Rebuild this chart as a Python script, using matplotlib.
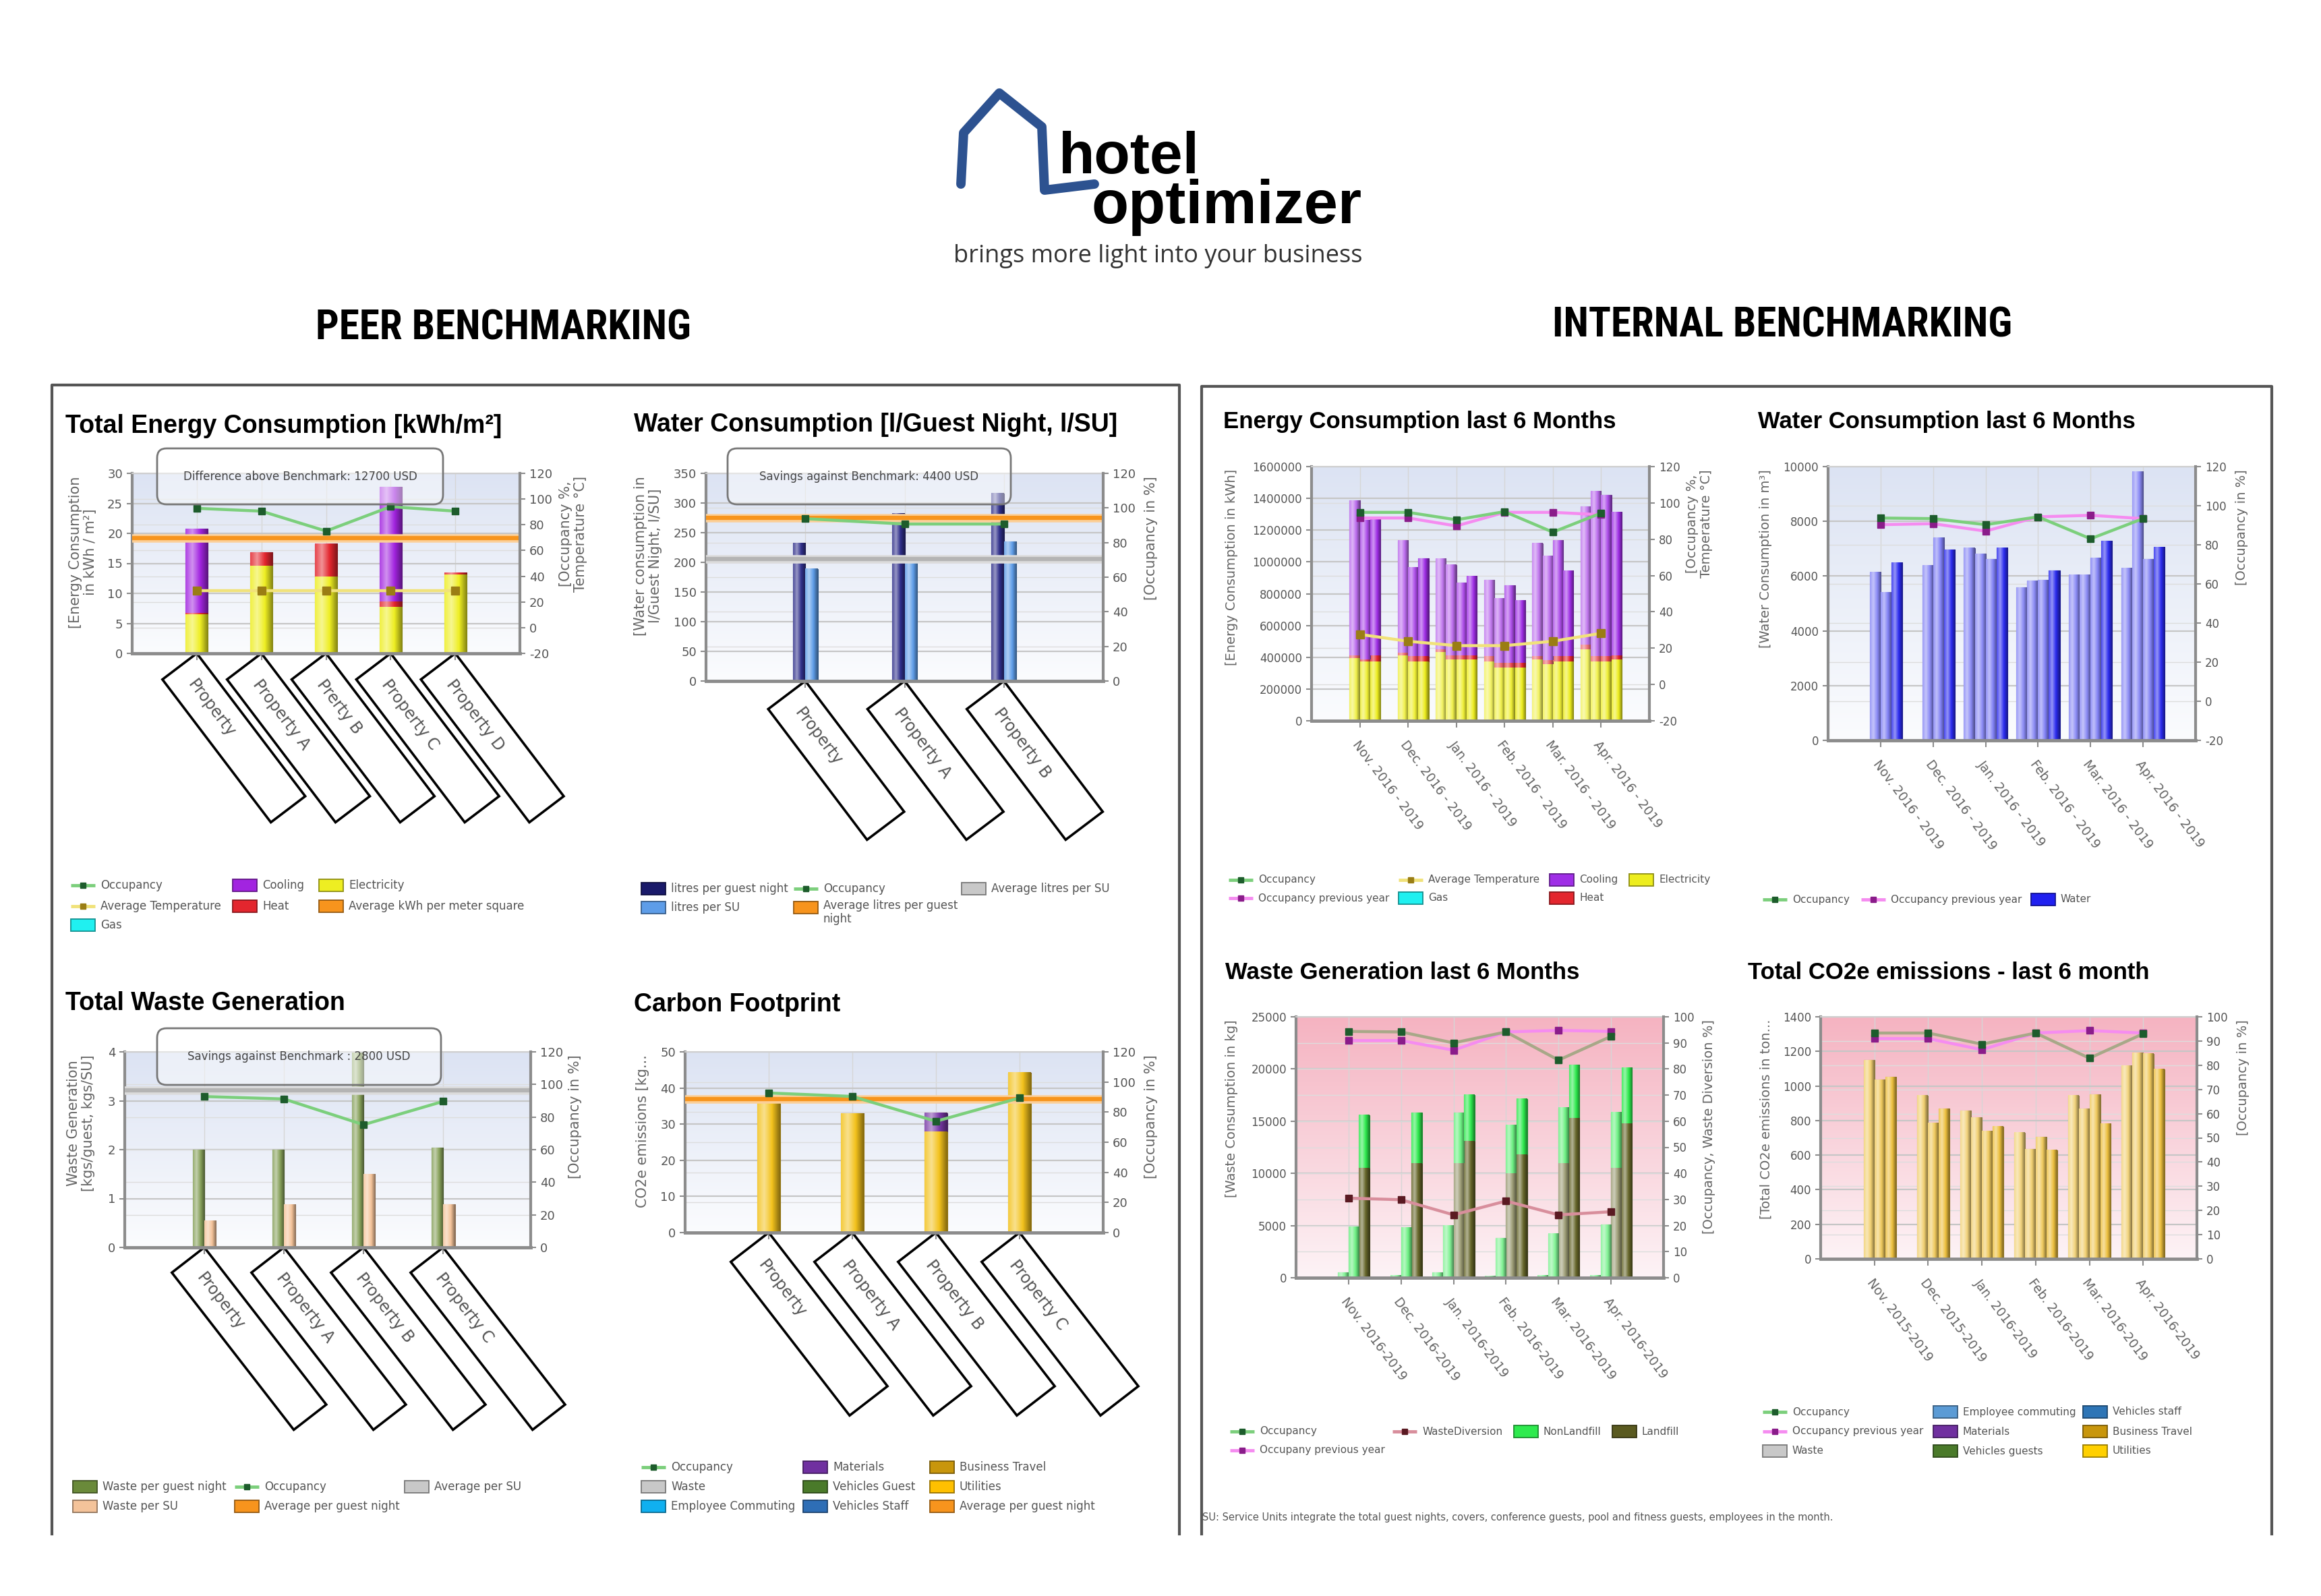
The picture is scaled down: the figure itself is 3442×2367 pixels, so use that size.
import numpy as np
import matplotlib
matplotlib.use('Agg')
import matplotlib.pyplot as plt
from matplotlib.colors import to_rgb
from matplotlib.patches import FancyBboxPatch, Polygon, Rectangle
from matplotlib.transforms import Affine2D, ScaledTranslation

plt.rcParams['font.family'] = ['DejaVu Sans']

W, H = 3442, 2367
nan = np.nan

# ------------------------------------------------------------ peer data
energy_props = ['Property', 'Property A', 'Prerty B', 'Property C', 'Property D']
energy_elec = [6.5, 14.6, 12.8, 7.7, 13.1]
energy_heat = [0.2, 2.2, 5.4, 1.0, 0.3]
energy_cool = [14.0, 0.0, 0.0, 19.0, 0.0]
energy_occ = [92.8, 90.6, 75.1, 94.1, 90.6]
energy_temp = [29, 29, 29, 29, 29]
energy_avg = 19.2

water_props = ['Property', 'Property A', 'Property B']
water_guest = [232, 282, 316]
water_su = [189, 202, 235]
water_occ = [93.8, 90.7, 90.7]
water_avg_guest = 275
water_avg_su = 206

waste_props = ['Property', 'Property A', 'Property B', 'Property C']
waste_guest = [2.0, 2.0, 4.0, 2.04]
waste_su = [0.54, 0.87, 1.49, 0.88]
waste_occ = [92.6, 91.1, 75.3, 89.6]
waste_avg_su = 3.22

carbon_props = ['Property', 'Property A', 'Property B', 'Property C']
carbon_util = [36.3, 33.0, 27.9, 44.3]
carbon_mat = [0.0, 0.0, 5.1, 0.0]
carbon_occ = [92.7, 90.4, 73.9, 89.4]
carbon_avg = 37.0

# ------------------------------------------------------------ internal data
months_energy = ['Nov. 2016 - 2019', 'Dec. 2016 - 2019', 'Jan. 2016 - 2019',
                 'Feb. 2016 - 2019', 'Mar. 2016 - 2019', 'Apr. 2016 - 2019']
months_waste = ['Nov. 2016-2019', 'Dec. 2016-2019', 'Jan. 2016-2019',
                'Feb. 2016-2019', 'Mar. 2016-2019', 'Apr. 2016-2019']
months_co2 = ['Nov. 2015-2019', 'Dec. 2015-2019', 'Jan. 2016-2019',
              'Feb. 2016-2019', 'Mar. 2016-2019', 'Apr. 2016-2019']

# one row per month, one column per yearly bar (nan = year missing)
en_elec = [[nan, 396000, 373000, 373000],
           [nan, 412000, 373000, 373000],
           [435000, 388000, 388000, 388000],
           [373000, 334000, 334000, 334000],
           [388000, 357000, 373000, 373000],
           [450000, 373000, 373000, 388000]]
en_heat = [[nan, 16000, 15000, 39000],
           [nan, 15000, 34000, 34000],
           [15000, 24000, 24000, 24000],
           [34000, 31000, 31000, 31000],
           [19000, 23000, 34000, 34000],
           [31000, 34000, 34000, 24000]]
en_cool = [[nan, 974000, 878000, 865000],
           [nan, 707000, 556000, 615000],
           [570000, 570000, 458000, 497000],
           [478000, 404000, 486000, 391000],
           [711000, 657000, 727000, 537000],
           [867000, 1038000, 1014000, 900000]]
en_occ = [94.8, 94.8, 90.7, 95.2, 83.9, 94.4]
en_occ_prev = [91.7, 91.7, 87.3, 94.8, 94.8, 93.5]
en_temp = [27.6, 23.8, 21.4, 21.4, 23.8, 28.2]

wa_water = [[nan, 6135, 5400, 6480],
            [nan, 6380, 7400, 6970],
            [7030, 6800, 6620, 7030],
            [5580, 5830, 5850, 6200],
            [6040, 6040, 6660, 7280],
            [6290, 9815, 6625, 7055]]
wa_occ = [93.7, 93.4, 90.3, 94.3, 83.1, 93.4]
wa_occ_prev = [90.3, 90.8, 87.0, 94.3, 95.1, 93.4]

ws_landfill = [[nan, 0, 0, 10500],
               [nan, 0, 0, 11000],
               [0, 0, 11000, 13100],
               [0, 0, 10000, 11800],
               [0, 0, 11000, 15300],
               [0, 0, 10500, 14800]]
ws_nonlandfill = [[nan, 500, 4900, 5100],
                  [nan, 200, 4800, 4800],
                  [500, 5000, 4800, 4400],
                  [150, 3800, 4600, 5300],
                  [200, 4200, 5300, 5100],
                  [200, 5100, 5300, 5300]]
ws_occ = [94.4, 94.2, 90.0, 94.2, 83.4, 92.5]
ws_occ_prev = [90.9, 90.9, 87.2, 94.2, 94.8, 94.4]
ws_diversion = [30.5, 29.9, 24.1, 29.4, 24.1, 25.3]

co_total = [[nan, 1150, 1037, 1052],
            [nan, 944, 786, 868],
            [857, 818, 738, 766],
            [731, 634, 705, 629],
            [944, 868, 950, 781],
            [1117, 1193, 1187, 1096]]
co_occ = [93.3, 93.3, 88.7, 93.3, 82.9, 93.0]
co_occ_prev = [91.0, 91.0, 86.4, 93.3, 94.3, 93.3]

# ------------------------------------------------------------ styling
BLUE_BG = ('#dce3f3', '#fbfcfe')
PINK_BG = ('#f5b3c1', '#fdf3f6')
AXIS = '#8c8c8c'
TXT = '#555555'
ORANGE = '#f7941d'
OCC = ('#7ccf7c', '#1d5c2c')
PREV = ('#f58cf0', '#8a1c8a')
TEMP = ('#f1e27a', '#9a7d14')
DIV = ('#d88e9c', '#5a1a22')
BOLD = ['Liberation Sans', 'DejaVu Sans']
NARROW = ['Liberation Sans Narrow', 'Roboto Condensed', 'Liberation Sans', 'DejaVu Sans']
T = np.linspace(0, 1, 40)

fig = plt.figure(figsize=(W / 100, H / 100), dpi=100)
ov = fig.add_axes([0, 0, 1, 1], zorder=10)
ov.set_xlim(0, W)
ov.set_ylim(H, 0)
ov.axis('off')


def darker(c, f=0.6):
    return tuple(np.array(to_rgb(c)) * f)


def cbar(ax, x, h, w, color, bottom=None, lighten=0.0, align='center'):
    # bar with a cylinder-like horizontal shading
    rgb = np.array(to_rgb(color))
    rgb = rgb + (1 - rgb) * lighten
    bars = ax.bar(x, h, w, bottom=bottom, align=align, color=rgb,
                  edgecolor=rgb * 0.6, linewidth=0.8, zorder=2)
    k = np.interp(T, [0, 0.3, 0.65, 1], [0.15, 0.5, 0.0, -0.45])[:, None]
    img = np.where(k >= 0, rgb + (1 - rgb) * k, rgb * (1 + k))[None, :, :]
    for p in bars:
        x0, y0, bw, bh = p.get_x(), p.get_y(), p.get_width(), p.get_height()
        if not (np.isfinite(y0) and np.isfinite(bh)) or bh <= 0:
            continue
        ax.imshow(img, extent=(x0, x0 + bw, y0, y0 + bh), aspect='auto',
                  interpolation='bilinear', zorder=2.01)
    return bars


def year_bars(ax, x, rows, w, color, lighten, bottom=None):
    rows = np.array(rows, float)
    for j in range(rows.shape[1]):
        b = None if bottom is None else bottom[:, j]
        cbar(ax, x + (j - 2) * w, rows[:, j], w, color, bottom=b,
             lighten=lighten[j], align='edge')


def panel(box, ylim, ystep, rlim, rstep, xlim, bg, fs):
    x0, y0, x1, y1 = box
    ax = fig.add_axes([x0 / W, 1 - y1 / H, (x1 - x0) / W, (y1 - y0) / H])
    ax2 = ax.twinx()
    yt = np.arange(ylim[0], ylim[1] + ystep / 2, ystep)
    rt = np.arange(rlim[0], rlim[1] + rstep / 2, rstep)
    ax.set_yticks(yt)
    ax.set_yticklabels([str(int(v)) for v in yt])
    ax2.set_yticks(rt)
    ax2.set_yticklabels([str(int(v)) for v in rt])
    g = np.linspace(0, 1, 256)[:, None, None]
    img = (1 - g) * np.array(to_rgb(bg[0])) + g * np.array(to_rgb(bg[1]))
    ax.imshow(img, extent=(0, 1, 0, 1), transform=ax.transAxes, aspect='auto',
              zorder=0, interpolation='bilinear')
    ax.set_axisbelow(True)
    ax.grid(axis='y', color='#c6c6c6', lw=1.6)
    ax.grid(axis='x', color='#d6d6d6', lw=1)
    for v in rt:
        ax.axhline(ylim[0] + (v - rlim[0]) / (rlim[1] - rlim[0]) * (ylim[1] - ylim[0]),
                   color='#dddddd', lw=1, zorder=0.6)
    ax.spines['right'].set_visible(False)
    ax.spines['left'].set(color=AXIS, lw=3)
    ax.spines['bottom'].set(color=AXIS, lw=3.5)
    ax.spines['top'].set(color='#cfcfcf', lw=1.5)
    for s in ['left', 'top', 'bottom']:
        ax2.spines[s].set_visible(False)
    ax2.spines['right'].set(color=AXIS, lw=3)
    for a in (ax, ax2):
        a.tick_params(axis='y', length=6, width=1.5, color=AXIS, labelsize=fs,
                      labelcolor=TXT, pad=4)
    ax.tick_params(axis='x', length=7, width=1.5, color=AXIS)
    ax.set_xlim(*xlim)
    ax.set_ylim(*ylim)
    ax2.set_ylim(*rlim)
    return ax, ax2


def line(ax2, x, y, st, ms=7, marker='s'):
    ax2.plot(x, y, color=st[0], lw=3.2, marker=marker, ms=ms, mfc=st[1], mec=st[1], zorder=4)


def avg_line(ax, v, color, halo):
    ax.axhline(v, color=halo, lw=9, zorder=3)
    ax.axhline(v, color=color, lw=4.5, zorder=3.1)


def prop_boxes(ax, names, L, Wd, ang, fs=17):
    for i, name in enumerate(names):
        base = ScaledTranslation(i + 1, 0, ax.get_xaxis_transform())
        tr = Affine2D().rotate_deg(-ang) + base
        ax.add_patch(Polygon([(0, 0), (L, 0), (L, -Wd), (0, -Wd)], closed=True,
                             fill=False, ec='black', lw=2.6, transform=tr, clip_on=False))
        ax.text(28, -Wd / 2, name, transform=tr, rotation=-ang, rotation_mode='anchor',
                ha='left', va='center', fontsize=fs, color=TXT, clip_on=False)
    ax.set_xticks(np.arange(1, len(names) + 1))
    ax.set_xticklabels([])


def month_ticks(ax, x, labels):
    ax.set_xticks(x)
    ax.set_xticklabels(labels, rotation=-53, ha='left', va='top',
                       rotation_mode='anchor', fontsize=13.5, color='#666666')
    ax.tick_params(axis='x', pad=12)


def legend(cols, rows, entries, fs):
    for c, r, kind, col, lab in entries:
        x, y = cols[c], rows[r]
        if kind == 'line':
            ov.plot([x, x + 36], [y, y], color=col[0], lw=3.5, solid_capstyle='butt')
            ov.plot([x + 18], [y], marker='s', ms=6, color=col[1])
        else:
            ov.add_patch(Rectangle((x, y - 9), 36, 18, fc=col, ec=darker(col), lw=1.3))
        if '\n' in lab:
            ov.text(x + 44, y - 12, lab, va='top', fontsize=fs, color=TXT, linespacing=1.15)
        else:
            ov.text(x + 44, y, lab, va='center', fontsize=fs, color=TXT)


def note_box(x0, y0, x1, y1, text):
    ov.add_patch(FancyBboxPatch((x0, y0), x1 - x0, y1 - y0,
                                boxstyle='round,pad=0,rounding_size=14',
                                fc=(1, 1, 1, 0.45), ec='#777777', lw=2))
    ov.text((x0 + x1) / 2, (y0 + y1) / 2, text, ha='center', va='center',
            fontsize=12, color='#444444')


def ylab(x, top, text, fs=14):
    ov.text(x, top + 4, text, rotation=90, ha='center', va='top', fontsize=fs,
            color='#666666', linespacing=1.1, multialignment='center')


# ------------------------------------------------------------ header / logo
ov.plot([1425, 1429, 1482, 1545, 1549, 1623], [273, 197, 138, 188, 282, 273],
        color='#2d5290', lw=10, solid_joinstyle='round', solid_capstyle='round')
ov.text(1570, 257, 'hotel', fontsize=63, fontweight='bold', family=BOLD, va='baseline')
ov.text(1619, 331, 'optimizer', fontsize=65, fontweight='bold', family=BOLD, va='baseline')
ov.text(1717, 380, 'brings more light into your business', fontsize=26, ha='center',
        va='center', color='#333333', family=['Open Sans', 'DejaVu Sans'])
ov.text(746, 487, 'PEER BENCHMARKING', ha='center', va='center', fontsize=44,
        fontweight='bold', family=NARROW)
ov.text(2643, 483, 'INTERNAL BENCHMARKING', ha='center', va='center', fontsize=44,
        fontweight='bold', family=NARROW)
ov.plot([77, 77, 1749, 1749], [2275, 571, 571, 2275], color='#555555', lw=3)
ov.plot([1782, 1782, 3369, 3369], [2275, 573, 573, 2275], color='#555555', lw=3)

for x, y, t, fs in [(97, 632, 'Total Energy Consumption [kWh/m²]', 27),
                    (940, 630, 'Water Consumption [l/Guest Night, l/SU]', 27),
                    (97, 1488, 'Total Waste Generation', 27),
                    (940, 1490, 'Carbon Footprint', 27),
                    (1814, 625, 'Energy Consumption last 6 Months', 25),
                    (2607, 625, 'Water Consumption last 6 Months', 25),
                    (1817, 1442, 'Waste Generation last 6 Months', 25),
                    (2592, 1442, 'Total CO2e emissions - last 6 month', 25)]:
    ov.text(x, y, t, fontsize=fs, fontweight='bold', family=BOLD, va='center')

# ------------------------------------------------------------ 1 total energy
ax, ax2 = panel((196, 702, 771, 969), (0, 30), 5, (-20, 120), 20, (0, 6), BLUE_BG, 13)
x = np.arange(1, 6)
e = np.array(energy_elec)
cbar(ax, x, energy_elec, 0.345, '#eeee22')
cbar(ax, x, energy_heat, 0.345, '#e3262e', bottom=e)
cbar(ax, x, energy_cool, 0.345, '#a224e0', bottom=e + np.array(energy_heat))
avg_line(ax, energy_avg, ORANGE, '#fbcf98')
line(ax2, x, energy_temp, TEMP, ms=8)
line(ax2, x, energy_occ, OCC)
prop_boxes(ax, energy_props, 266, 64, 52.8)
ylab(123, 702, '[Energy Consumption\nin kWh / m²]', 15)
ylab(850, 702, '[Occupancy %,\nTemperature °C]', 15)
note_box(233, 665, 657, 748, 'Difference above Benchmark: 12700 USD')
legend([105, 345, 473], [1313, 1344, 1372],
       [(0, 0, 'line', OCC, 'Occupancy'),
        (0, 1, 'line', TEMP, 'Average Temperature'),
        (0, 2, 'patch', '#20f0f0', 'Gas'),
        (1, 0, 'patch', '#a224e0', 'Cooling'),
        (1, 1, 'patch', '#e3262e', 'Heat'),
        (2, 0, 'patch', '#eeee22', 'Electricity'),
        (2, 1, 'patch', ORANGE, 'Average kWh per meter square')], 12)

# ------------------------------------------------------------ 2 water
ax, ax2 = panel((1047, 702, 1636, 1010), (0, 350), 50, (0, 120), 20, (0, 4), BLUE_BG, 13)
x = np.arange(1, 4)
cbar(ax, x - 0.125, water_guest, 0.125, '#2f2f8a', align='edge')
cbar(ax, x, water_su, 0.125, '#5e9de8', align='edge')
avg_line(ax, water_avg_su, '#b4b4b4', '#dcdcdc')
avg_line(ax, water_avg_guest, ORANGE, '#fbcf98')
line(ax2, x, water_occ, OCC)
prop_boxes(ax, water_props, 243, 69, 52.9)
ylab(961, 702, '[Water consumption in\nl/Guest Night, l/SU]', 15)
ylab(1707, 702, '[Occupancy in %]', 15)
note_box(1079, 665, 1499, 748, 'Savings against Benchmark: 4400 USD')
legend([951, 1177, 1426], [1318, 1346],
       [(0, 0, 'patch', '#1a1a6a', 'litres per guest night'),
        (0, 1, 'patch', '#5e9de8', 'litres per SU'),
        (1, 0, 'line', OCC, 'Occupancy'),
        (1, 1, 'patch', ORANGE, 'Average litres per guest\nnight'),
        (2, 0, 'patch', '#c8c8c8', 'Average litres per SU')], 12)

# ------------------------------------------------------------ 3 waste
ax, ax2 = panel((185, 1560, 787, 1850), (0, 4), 1, (0, 120), 20, (0, 5.1), BLUE_BG, 13)
x = np.arange(1, 5)
cbar(ax, x - 0.147, waste_guest, 0.147, '#86a05a', align='edge')
cbar(ax, x, waste_su, 0.147, '#f4c39a', align='edge')
avg_line(ax, waste_avg_su, '#b4b4b4', '#dcdcdc')
line(ax2, x, waste_occ, OCC)
prop_boxes(ax, waste_props, 295, 61, 52.2)
ylab(120, 1560, 'Waste Generation\n[kgs/guest, kgs/SU]', 15)
ylab(853, 1560, '[Occupancy in %]', 15)
note_box(233, 1525, 654, 1609, 'Savings against Benchmark : 2800 USD')
legend([108, 348, 600], [2205, 2234],
       [(0, 0, 'patch', '#6a8a3a', 'Waste per guest night'),
        (0, 1, 'patch', '#f4c39a', 'Waste per SU'),
        (1, 0, 'line', OCC, 'Occupancy'),
        (1, 1, 'patch', ORANGE, 'Average per guest night'),
        (2, 0, 'patch', '#c8c8c8', 'Average per SU')], 12)

# ------------------------------------------------------------ 4 carbon
ax, ax2 = panel((1016, 1560, 1636, 1828), (0, 50), 10, (0, 120), 20, (0, 5), BLUE_BG, 13)
x = np.arange(1, 5)
cbar(ax, x, carbon_util, 0.274, '#f3c21c')
cbar(ax, x, carbon_mat, 0.274, '#7a3aa8', bottom=np.array(carbon_util))
avg_line(ax, carbon_avg, ORANGE, '#fbcf98')
line(ax2, x, carbon_occ, OCC)
prop_boxes(ax, carbon_props, 288, 71, 52.3)
ylab(953, 1560, 'CO2e emissions [kg...', 15)
ylab(1707, 1560, '[Occupancy in %]', 15)
legend([951, 1191, 1379], [2176, 2205, 2234],
       [(0, 0, 'line', OCC, 'Occupancy'),
        (0, 1, 'patch', '#c8c8c8', 'Waste'),
        (0, 2, 'patch', '#10b0f0', 'Employee Commuting'),
        (1, 0, 'patch', '#7030a0', 'Materials'),
        (1, 1, 'patch', '#4a7a2a', 'Vehicles Guest'),
        (1, 2, 'patch', '#2e6eb6', 'Vehicles Staff'),
        (2, 0, 'patch', '#c8960c', 'Business Travel'),
        (2, 1, 'patch', '#ffc000', 'Utilities'),
        (2, 2, 'patch', ORANGE, 'Average per guest night')], 12)

# ------------------------------------------------------------ 5 energy 6 months
ax, ax2 = panel((1945, 692, 2446, 1069), (0, 1600000), 200000, (-20, 120), 20, (0, 7), BLUE_BG, 12)
x = np.arange(1, 7)
elec = np.array(en_elec, float)
heat = np.array(en_heat, float)
lt = [0.35, 0.3, 0.15, 0.0]
year_bars(ax, x, elec, 0.214, '#eded1e', [0.3, 0.2, 0.1, 0.0])
year_bars(ax, x, heat, 0.214, '#e3262e', lt, bottom=elec)
year_bars(ax, x, en_cool, 0.214, '#9f2ee6', lt, bottom=elec + heat)
line(ax2, x, en_temp, TEMP, ms=8)
line(ax2, x, en_occ_prev, PREV)
line(ax2, x, en_occ, OCC)
month_ticks(ax, x, months_energy)
ylab(1827, 692, '[Energy Consumption in kWh]')
ylab(2520, 692, '[Occupancy %,\nTemperature °C]')
legend([1822, 2074, 2298, 2416], [1305, 1332],
       [(0, 0, 'line', OCC, 'Occupancy'),
        (0, 1, 'line', PREV, 'Occupancy previous year'),
        (1, 0, 'line', TEMP, 'Average Temperature'),
        (1, 1, 'patch', '#20f0f0', 'Gas'),
        (2, 0, 'patch', '#9f2ee6', 'Cooling'),
        (2, 1, 'patch', '#e3262e', 'Heat'),
        (3, 0, 'patch', '#eded1e', 'Electricity')], 11)

# ------------------------------------------------------------ 6 water 6 months
ax, ax2 = panel((2711, 692, 3256, 1098), (0, 10000), 2000, (-20, 120), 20, (0, 7), BLUE_BG, 12)
year_bars(ax, x, wa_water, 0.206, '#2b2bee', [0.45, 0.45, 0.4, 0.0])
line(ax2, x, wa_occ_prev, PREV)
line(ax2, x, wa_occ, OCC)
month_ticks(ax, x, months_energy)
ylab(2619, 692, '[Water Consumption in m³]')
ylab(3325, 692, '[Occupancy in %]')
legend([2614, 2760, 3012], [1334],
       [(0, 0, 'line', OCC, 'Occupancy'),
        (1, 0, 'line', PREV, 'Occupancy previous year'),
        (2, 0, 'patch', '#2020f0', 'Water')], 11)

# ------------------------------------------------------------ 7 waste 6 months
ax, ax2 = panel((1922, 1508, 2467, 1895), (0, 25000), 5000, (0, 100), 10, (0, 7), PINK_BG, 12)
land = np.array(ws_landfill, float)
year_bars(ax, x, land, 0.2, '#66662a', [0.45, 0.45, 0.35, 0.0])
year_bars(ax, x, ws_nonlandfill, 0.2, '#2eea4e', [0.4, 0.4, 0.3, 0.0], bottom=land)
line(ax2, x, ws_diversion, DIV)
line(ax2, x, ws_occ_prev, PREV)
line(ax2, x, ws_occ, ('#a8a888', '#1d5c2c'))
month_ticks(ax, x, months_waste)
ylab(1827, 1508, '[Waste Consumption in kg]')
ylab(2535, 1508, '[Occupancy, Waste Diversion %]')
legend([1824, 2065, 2245, 2391], [2123, 2151],
       [(0, 0, 'line', OCC, 'Occupancy'),
        (0, 1, 'line', PREV, 'Occupany previous year'),
        (1, 0, 'line', DIV, 'WasteDiversion'),
        (2, 0, 'patch', '#2eea4e', 'NonLandfill'),
        (3, 0, 'patch', '#5a5a20', 'Landfill')], 11)

# ------------------------------------------------------------ 8 co2 6 months
ax, ax2 = panel((2700, 1508, 3258, 1867), (0, 1400), 200, (0, 100), 10, (0, 7), PINK_BG, 12)
year_bars(ax, x, co_total, 0.2, '#ecbc34', [0.35, 0.3, 0.2, 0.05])
line(ax2, x, co_occ_prev, PREV)
line(ax2, x, co_occ, ('#a8a888', '#1d5c2c'))
month_ticks(ax, x, months_co2)
ylab(2619, 1508, '[Total CO2e emissions in ton...')
ylab(3326, 1508, '[Occupancy in %]')
legend([2614, 2867, 3089], [2094, 2123, 2152],
       [(0, 0, 'line', OCC, 'Occupancy'),
        (0, 1, 'line', PREV, 'Occupancy previous year'),
        (0, 2, 'patch', '#c8c8c8', 'Waste'),
        (1, 0, 'patch', '#5b9bd5', 'Employee commuting'),
        (1, 1, 'patch', '#7030a0', 'Materials'),
        (1, 2, 'patch', '#4a7a2a', 'Vehicles guests'),
        (2, 0, 'patch', '#2e75b6', 'Vehicles staff'),
        (2, 1, 'patch', '#c8960c', 'Business Travel'),
        (2, 2, 'patch', '#ffd000', 'Utilities')], 11)

ov.text(1783, 2250, 'SU: Service Units integrate the total guest nights, covers, conference '
        'guests, pool and fitness guests, employees in the month.',
        fontsize=10.5, color=TXT, va='center')

fig.savefig('out.png', dpi=100)
